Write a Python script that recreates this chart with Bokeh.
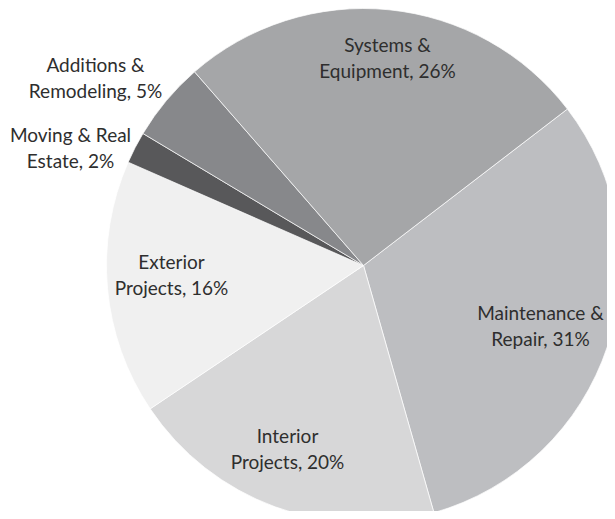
import math
from bokeh.plotting import figure
from bokeh.models import Range1d, ColumnDataSource
from bokeh.core.properties import value
from bokeh.embed import file_html
from bokeh.resources import INLINE

# ---- data (clockwise order, starting at upper right) ----
categories = ["Maintenance &\nRepair", "Interior\nProjects", "Exterior\nProjects",
              "Moving & Real\nEstate", "Additions &\nRemodeling", "Systems &\nEquipment"]
shares = [31, 20, 16, 2, 5, 26]
colors = ["#bdbec1", "#d7d7d8", "#f0f0f0", "#58585a", "#87888b", "#a5a6a8"]

# ---- layout ----
W, H = 607, 511
cx, cy, R = 363, H - 265, 257
start_deg = 37.5  # math angle where first slice starts, going clockwise
# label anchors (pixel coords from top-left of plot)
label_pos = [(540, 325), (287, 448), (171, 274), (70, 147), (95, 77), (387, 57)]

total = sum(shares)
starts, ends = [], []
a = start_deg
for v in shares:
    starts.append(math.radians(a))
    a -= v / total * 360.0
    ends.append(math.radians(a))

src = ColumnDataSource(dict(start=starts, end=ends, color=colors))

p = figure(width=W, height=H, x_range=Range1d(0, W), y_range=Range1d(0, H),
           x_axis_type=None, y_axis_type=None, toolbar_location=None,
           output_backend="svg", min_border=0, outline_line_color=None)
p.grid.visible = False
p.background_fill_color = "white"
p.border_fill_color = "white"

p.wedge(x=cx, y=cy, radius=R, start_angle="start", end_angle="end", direction="clock",
        fill_color="color", line_color="white", line_width=0.7, source=src)

labels = [f"{c}, {v}%" for c, v in zip(categories, shares)]
lsrc = ColumnDataSource(dict(x=[q[0] for q in label_pos], y=[H - q[1] for q in label_pos], text=labels))
p.text(x="x", y="y", text="text", source=lsrc, text_align="center", text_baseline="middle",
       text_font=value("Lato"), text_font_size="19px", text_color="#2e2e2e",
       text_line_height=1.15)

open("out.html", "w").write(file_html(p, INLINE))
